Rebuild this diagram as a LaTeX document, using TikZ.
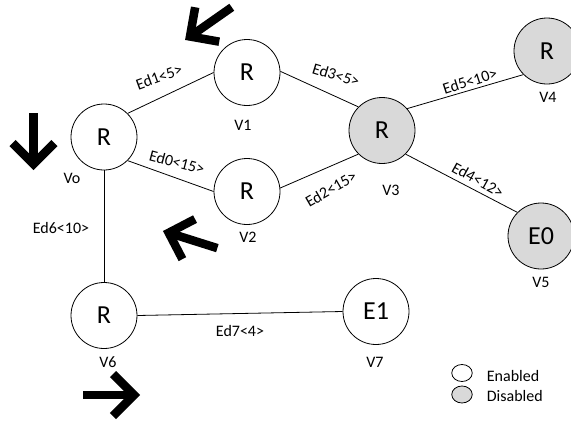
\documentclass[tikz,border=0pt]{standalone}
\usepackage{fontspec}
\setmainfont{Carlito}
\usetikzlibrary{shapes.geometric}
\definecolor{offgray}{RGB}{217,217,217}
\tikzstyle{onnode}=[circle, draw, line width=0.8pt, minimum size=66pt, inner sep=0pt, font=\fontsize{26}{30}\selectfont]
\tikzstyle{offnode}=[onnode, fill=offgray]
\tikzstyle{vname}=[inner sep=0pt, font=\fontsize{16}{19}\selectfont]
\tikzstyle{elabel}=[inner sep=0pt, font=\fontsize{16}{19}\selectfont]
\tikzstyle{keymark}=[ellipse, draw, line width=0.8pt, minimum width=20.5pt, minimum height=17pt, inner sep=0pt]
\tikzset{bigarrow/.pic={
    \draw[line width=8.5pt] (-51pt,0pt) -- (0pt,0pt);
    \draw[line width=8.5pt, line join=miter] (-21pt,21pt) -- (0pt,0pt) -- (-21pt,-21pt);}}

\begin{document}
\begin{tikzpicture}[x=1pt,y=-1pt,line width=0.8pt]
    \useasboundingbox (0,0) rectangle (571,424);
    \node[onnode] (vo) at (104,137) {R};
    \node[onnode] (v1) at (247,72.5) {R};
    \node[onnode] (v2) at (247,191.5) {R};
    \node[offnode] (v3) at (382,130.5) {R};
    \node[offnode] (v4) at (547,51) {R};
    \node[offnode] (v5) at (541,236) {E0};
    \node[onnode] (v6) at (104,315.5) {R};
    \node[onnode] (v7) at (376,311.5) {E1};

    \draw (vo.45) -- (v1.180);
    \draw (vo.315) -- (v2.180);
    \draw (v1.2) -- (v3.135);
    \draw (v2.6) -- (v3.225);
    \draw (v3.41) -- (v4.225);
    \draw (v3.315) -- (v5.135);
    \draw (vo.270) -- (v6.90);
    \draw (v6.0) -- (v7.180);

    \node[vname] (no) at (72,178) {Vo};
    \node[vname] (n1) at (243,125) {V1};
    \node[vname] (n2) at (248,237) {V2};
    \node[vname] (n3) at (391,190) {V3};
    \node[vname] (n4) at (548,97) {V4};
    \node[vname] (n5) at (541,282) {V5};
    \node[vname] (n6) at (108,362) {V6};
    \node[vname] (n7) at (375,362) {V7};

    \node[elabel, rotate=20] (e1) at (159,77) {Ed1<5>};
    \node[elabel, rotate=-15] (e0) at (177,162) {Ed0<15>};
    \node[elabel, rotate=-17] (e3) at (336,75) {Ed3<5>};
    \node[elabel, rotate=18] (e5) at (470,81) {Ed5<10>};
    \node[elabel, rotate=30] (e2) at (331,189) {Ed2<15>};
    \node[elabel, rotate=-29] (e4) at (478,180) {Ed4<12>};
    \node[elabel] (e6) at (61,228) {Ed6<10>};
    \node[elabel] (e7) at (240,331) {Ed7<4>};

    \pic[rotate=215] at (190,36.5) {bigarrow};
    \pic[rotate=270] at (33.5,164) {bigarrow};
    \pic[rotate=162.5] at (168.7,232.8) {bigarrow};
    \pic at (134,395) {bigarrow};

    \node[keymark] (keyon) at (462,373) {};
    \node[keymark, fill=offgray] (keyoff) at (462,394.5) {};
    \node[elabel, anchor=west] (keyontext) at (486.5,375.5) {Enabled};
    \node[elabel, anchor=west] (keyofftext) at (486.5,395.5) {Disabled};
\end{tikzpicture}
\end{document}
